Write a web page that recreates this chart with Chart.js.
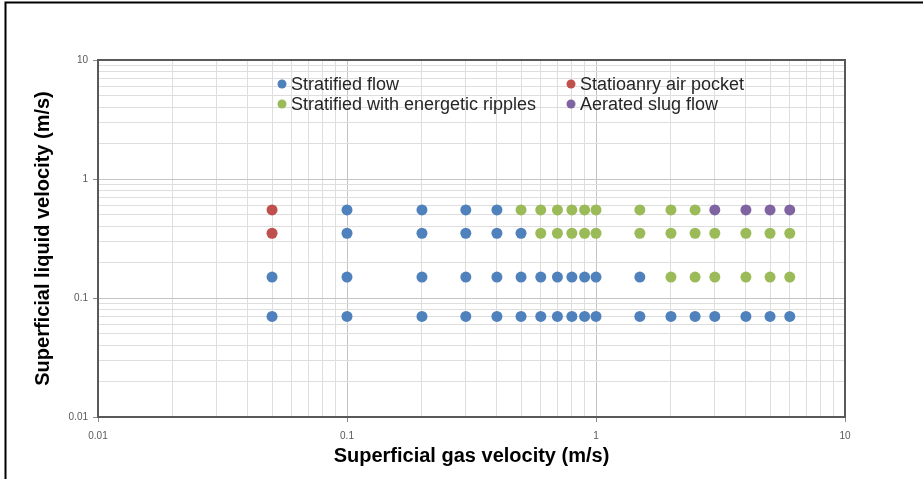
<!DOCTYPE html>
<html lang="en">
<head>
    <meta charset="UTF-8">
    <title>Flow regime map</title>
    <script src="https://cdn.jsdelivr.net/npm/chart.js"></script>
    <style>
        body { margin: 0; background: #fff; }
    </style>
</head>
<body>
    <canvas id="flowChart" width="923" height="479"></canvas>

    <script>
        // liquid velocity rows (m/s) and the gas velocities observed for each regime on that row
        const liquidLevels = [0.07, 0.15, 0.35, 0.55];
        const stratifiedFlow = [
            [0.05, 0.1, 0.2, 0.3, 0.4, 0.5, 0.6, 0.7, 0.8, 0.9, 1, 1.5, 2, 2.5, 3, 4, 5, 6],
            [0.05, 0.1, 0.2, 0.3, 0.4, 0.5, 0.6, 0.7, 0.8, 0.9, 1, 1.5],
            [0.1, 0.2, 0.3, 0.4, 0.5],
            [0.1, 0.2, 0.3, 0.4]
        ];
        const stationaryPocket = [[], [], [0.05], [0.05]];
        const energeticRipples = [
            [],
            [2, 2.5, 3, 4, 5, 6],
            [0.6, 0.7, 0.8, 0.9, 1, 1.5, 2, 2.5, 3, 4, 5, 6],
            [0.5, 0.6, 0.7, 0.8, 0.9, 1, 1.5, 2, 2.5]
        ];
        const aeratedSlug = [[], [], [], [3, 4, 5, 6]];

        const seriesNames = ['Stratified flow', 'Statioanry air pocket', 'Stratified with energetic ripples', 'Aerated slug flow'];
        const seriesColors = ['#4F81BD', '#C0504D', '#9BBB59', '#8064A2'];

        const decadeTicks = [0.01, 0.1, 1, 10];
        const minorSteps = [2, 3, 4, 5, 6, 7, 8, 9];

        function toPoints(rows) {
            const pts = [];
            rows.forEach((gasList, i) => {
                gasList.forEach(g => pts.push({x: g, y: liquidLevels[i]}));
            });
            return pts;
        }

        function isDecade(v) {
            const l = Math.log10(v);
            return Math.abs(l - Math.round(l)) < 1e-6;
        }

        function buildTicks(scale) {
            const vals = [];
            decadeTicks.forEach((d, i) => {
                vals.push(d);
                if (i < decadeTicks.length - 1) {
                    minorSteps.forEach(s => vals.push(Number((d * s).toPrecision(6))));
                }
            });
            scale.ticks = vals.map(v => ({value: v, major: isDecade(v)}));
        }

        const gridColor = ctx => (ctx.tick && isDecade(ctx.tick.value)) ? '#c4c4c4' : '#dedede';
        const tickMarkColor = ctx => (ctx.tick && isDecade(ctx.tick.value)) ? '#8c8c8c' : 'rgba(0,0,0,0)';
        const tickLabel = v => isDecade(v) ? String(Number(v.toPrecision(6))) : '';

        const framePlugin = {
            id: 'frame',
            beforeDraw(chart) {
                const c = chart.ctx;
                c.save();
                c.strokeStyle = '#000';
                c.lineWidth = 2;
                c.beginPath();
                c.moveTo(5.5, 479);
                c.lineTo(5.5, 2.5);
                c.lineTo(923, 2.5);
                c.stroke();
                c.restore();
            },
            beforeDatasetsDraw(chart) {
                const a = chart.chartArea;
                const c = chart.ctx;
                c.save();
                c.strokeStyle = '#595959';
                c.lineWidth = 2;
                c.strokeRect(a.left, a.top, a.right - a.left, a.bottom - a.top);
                c.restore();
            }
        };

        // legend drawn inside the plot area in two columns
        const legendPlugin = {
            id: 'insideLegend',
            afterDraw(chart) {
                const a = chart.chartArea;
                const c = chart.ctx;
                c.save();
                c.font = '18px "Liberation Sans", Arial, sans-serif';
                c.textBaseline = 'middle';
                chart.data.datasets.forEach((ds, i) => {
                    const col = i % 2;
                    const row = Math.floor(i / 2);
                    const x = a.left + (col ? 473 : 184);
                    const y = a.top + 24 + row * 20;
                    c.fillStyle = ds.backgroundColor;
                    c.beginPath();
                    c.arc(x, y, 4.5, 0, Math.PI * 2);
                    c.fill();
                    c.fillStyle = '#262626';
                    c.fillText(ds.label, x + 9, y + 1);
                });
                c.restore();
            }
        };

        const allRows = [stratifiedFlow, stationaryPocket, energeticRipples, aeratedSlug];

        new Chart(document.getElementById('flowChart'), {
            type: 'scatter',
            data: {
                datasets: allRows.map((rows, i) => ({
                    label: seriesNames[i],
                    data: toPoints(rows),
                    backgroundColor: seriesColors[i],
                    borderColor: seriesColors[i],
                    pointRadius: 5.5,
                    pointHoverRadius: 5.5,
                    borderWidth: 0
                }))
            },
            options: {
                responsive: false,
                animation: false,
                devicePixelRatio: 1,
                layout: { padding: { top: 60, right: 78, left: 0, bottom: 0 } },
                plugins: {
                    legend: { display: false },
                    tooltip: { enabled: false }
                },
                scales: {
                    x: {
                        type: 'logarithmic',
                        min: 0.01,
                        max: 10,
                        afterBuildTicks: buildTicks,
                        afterFit: s => { s.height = 62; },
                        border: { display: false },
                        grid: { color: gridColor, tickColor: tickMarkColor, tickLength: 5, lineWidth: 1 },
                        ticks: {
                            autoSkip: false,
                            maxRotation: 0,
                            padding: 8,
                            color: '#595959',
                            font: { family: '"Liberation Sans", Arial, sans-serif', size: 10 },
                            callback: tickLabel
                        },
                        title: {
                            display: true,
                            text: 'Superficial gas velocity (m/s)',
                            color: '#000',
                            font: { family: '"Liberation Sans", Arial, sans-serif', size: 20, weight: 'bold' },
                            padding: { top: 0, bottom: 11 }
                        }
                    },
                    y: {
                        type: 'logarithmic',
                        min: 0.01,
                        max: 10,
                        afterBuildTicks: buildTicks,
                        afterFit: s => { s.width = 98; },
                        border: { display: false },
                        grid: { color: gridColor, tickColor: tickMarkColor, tickLength: 5, lineWidth: 1 },
                        ticks: {
                            autoSkip: false,
                            padding: 5,
                            color: '#595959',
                            font: { family: '"Liberation Sans", Arial, sans-serif', size: 10 },
                            callback: tickLabel
                        },
                        title: {
                            display: true,
                            text: 'Superficial liquid velocity (m/s)',
                            color: '#000',
                            font: { family: '"Liberation Sans", Arial, sans-serif', size: 20, weight: 'bold' },
                            padding: { top: 31, bottom: 0 }
                        }
                    }
                }
            },
            plugins: [framePlugin, legendPlugin]
        });
    </script>
</body>
</html>
